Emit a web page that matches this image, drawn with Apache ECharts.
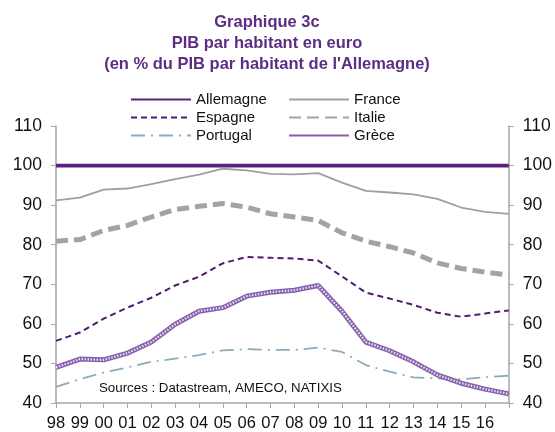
<!DOCTYPE html>
<html>
<head>
<meta charset="utf-8">
<script src="https://cdn.jsdelivr.net/npm/echarts@6/dist/echarts.min.js"></script>
<style>
  html, body { margin: 0; padding: 0; background: #fff; }
  #chart { width: 555px; height: 432px; }
</style>
</head>
<body>
<div id="chart"></div>
<script>
// années 1998-2017 (le dernier point n'a pas d'étiquette)
const years = ["98", "99", "00", "01", "02", "03", "04", "05", "06", "07", "08", "09", "10", "11", "12", "13", "14", "15", "16", "17"];
const yTicks = [40, 50, 60, 70, 80, 90, 100, 110];

const allemagne = [100, 100, 100, 100, 100, 100, 100, 100, 100, 100, 100, 100, 100, 100, 100, 100, 100, 100, 100, 100];
const france = [91.2, 91.9, 93.9, 94.2, 95.3, 96.6, 97.7, 99.2, 98.8, 97.9, 97.8, 98.1, 95.7, 93.6, 93.2, 92.7, 91.6, 89.4, 88.3, 87.8];
const espagne = [55.7, 57.8, 61.3, 64.1, 66.6, 69.7, 71.9, 75.3, 76.9, 76.7, 76.5, 76.0, 72.0, 67.9, 66.4, 64.8, 62.8, 61.8, 62.6, 63.4];
const italie = [80.9, 81.3, 83.6, 84.9, 87.0, 88.9, 89.7, 90.4, 89.5, 87.8, 87.0, 86.1, 83.0, 80.9, 79.5, 77.9, 75.4, 74.0, 73.1, 72.3];
const portugal = [44.1, 46.0, 47.7, 49.0, 50.4, 51.2, 52.1, 53.3, 53.6, 53.4, 53.4, 54.0, 52.9, 49.6, 47.9, 46.5, 46.2, 46.0, 46.5, 46.9];
const grece = [49.0, 51.1, 50.9, 52.6, 55.4, 59.9, 63.2, 64.1, 67.0, 68.0, 68.5, 69.7, 63.2, 55.4, 53.2, 50.4, 47.1, 45.0, 43.5, 42.3];

const font = "Liberation Sans, Arial, sans-serif";
const axisGrey = "#a6a6a6";

let chart = echarts.init(document.getElementById("chart"));

function yAxis(pos) {
  return {
    type: "value",
    position: pos,
    min: yTicks[0],
    max: yTicks[yTicks.length - 1],
    interval: 10,
    axisLine: { show: true, lineStyle: { color: axisGrey, width: 1.5 } },
    axisTick: { show: true, length: 5, lineStyle: { color: axisGrey } },
    splitLine: { show: false },
    axisLabel: { color: "#111", fontSize: 17.5, fontFamily: font, margin: 14 },
  };
}

function legendCol(left, names) {
  return {
    orient: "vertical",
    left: left,
    top: 87,
    itemWidth: 60,
    itemHeight: 10,
    itemGap: 3,
    data: names,
    itemStyle: { opacity: 0, borderWidth: 0 },
    textStyle: { color: "#111", fontSize: 15, fontFamily: font },
  };
}

let option = {
  backgroundColor: "#fff",
  animation: false,
  title: {
    text: "Graphique 3c\nPIB par habitant en euro\n(en % du PIB par habitant de l'Allemagne)",
    left: 262,
    textAlign: "center",
    top: 7,
    textStyle: {
      color: "#5c2d84",
      fontSize: 16.5,
      fontWeight: "bold",
      fontFamily: font,
      lineHeight: 21,
    },
  },
  legend: [
    legendCol(125, ["Allemagne", "Espagne", "Portugal"]),
    legendCol(283, ["France", "Italie", "Grèce"]),
  ],
  grid: { left: 56, right: 45, top: 126, bottom: 28 },
  xAxis: {
    type: "category",
    data: years,
    boundaryGap: false,
    axisLine: { lineStyle: { color: axisGrey, width: 1.5 } },
    axisTick: { show: true, interval: 0, length: 5, lineStyle: { color: axisGrey } },
    axisLabel: {
      color: "#111",
      fontSize: 16.5,
      fontFamily: font,
      margin: 12,
      interval: (i) => i < years.length - 1,
    },
  },
  yAxis: [yAxis("left"), yAxis("right")],
  graphic: [
    {
      type: "text",
      left: 99,
      top: 382,
      style: {
        text: "Sources : Datastream, AMECO, NATIXIS",
        fill: "#111",
        font: "13.3px " + font,
      },
    },
  ],
  series: [
    {
      name: "Allemagne",
      type: "line",
      data: allemagne,
      symbol: "none",
      z: 10,
      lineStyle: { color: "#5c1f80", width: 3.8 },
      itemStyle: { color: "#5c1f80" },
    },
    {
      name: "France",
      type: "line",
      data: france,
      symbol: "none",
      lineStyle: { color: "#9f9f9f", width: 1.8 },
      itemStyle: { color: "#9f9f9f" },
    },
    {
      name: "Espagne",
      type: "line",
      data: espagne,
      symbol: "none",
      lineStyle: { color: "#4f1a74", width: 2, type: [6, 4] },
      itemStyle: { color: "#4f1a74" },
    },
    {
      name: "Italie",
      type: "line",
      data: italie,
      symbol: "none",
      lineStyle: { color: "#a3a3a3", width: 5, type: [12, 6] },
      itemStyle: { color: "#a3a3a3" },
    },
    {
      name: "Portugal",
      type: "line",
      data: portugal,
      symbol: "none",
      lineStyle: { color: "#8fabbb", width: 1.8, type: [14, 6, 2, 6] },
      itemStyle: { color: "#8fabbb" },
    },
    {
      name: "Grèce",
      type: "line",
      data: grece,
      symbol: "none",
      lineStyle: { color: "#8560ad", width: 5 },
      itemStyle: { color: "#8560ad" },
    },
    {
      // motif hachuré de la Grèce
      name: "Grèce",
      type: "line",
      data: grece,
      symbol: "none",
      lineStyle: { color: "#ece3f4", width: 2.2, type: [1.5, 1.5] },
      itemStyle: { color: "#ece3f4" },
    },
  ],
};
chart.setOption(option, true);
</script>
</body>
</html>
